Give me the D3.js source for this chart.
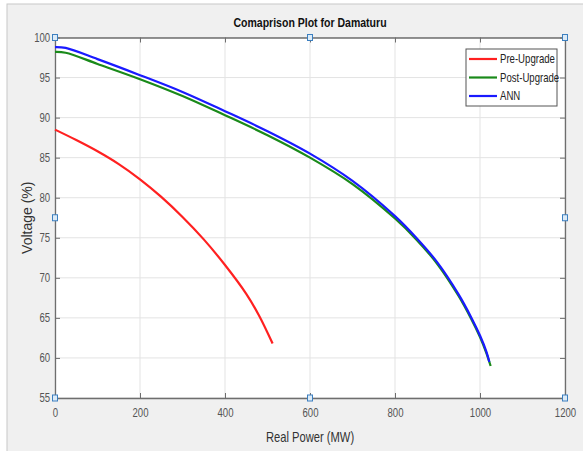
<!DOCTYPE html>
<html>
<head>
<meta charset="utf-8">
<script src="https://cdn.jsdelivr.net/npm/d3@7"></script>
<style>
  body { margin: 0; background: #fff; }
  text { font-family: "Liberation Sans", Arial, sans-serif; }
</style>
</head>
<body>
<svg id="chart" width="583" height="451"></svg>
<script>
// ***** Data *****
var seriesNames = ["Pre-Upgrade", "Post-Upgrade", "ANN"];
var seriesColors = ["#ff2020", "#1a8a1a", "#1a1aff"];

var prePower = [0, 50, 100, 150, 200, 250, 300, 350, 400, 450, 480, 512];
var preVolt = [88.5, 87.2, 85.8, 84.2, 82.3, 80.1, 77.6, 74.8, 71.6, 68.0, 65.3, 61.8];

var postPower = [0, 25, 100, 200, 300, 400, 500, 600, 700, 800, 850, 900, 950, 980, 1000, 1015, 1025];
var postVolt = [98.2, 98.1, 96.7, 94.8, 92.7, 90.3, 87.8, 85.0, 81.7, 77.4, 74.8, 71.7, 67.7, 64.8, 62.6, 60.6, 59.0];

var annPower = [0, 25, 100, 200, 300, 400, 500, 600, 700, 800, 850, 900, 950, 980, 1000, 1015, 1022];
var annVolt = [98.8, 98.7, 97.3, 95.3, 93.2, 90.8, 88.3, 85.5, 82.1, 77.7, 75.0, 71.9, 67.9, 65.0, 62.8, 60.8, 59.5];

var xTicks = [0, 200, 400, 600, 800, 1000, 1200];
var yTicks = [55, 60, 65, 70, 75, 80, 85, 90, 95, 100];

// ***** Layout *****
var margin = {top: 37.5, right: 18, bottom: 53, left: 55};
var width = 583 - margin.left - margin.right,
    height = 451 - margin.top - margin.bottom;
var narrow = "scale(0.8,1)";

var svg = d3.select("#chart");

// figure background
svg.append("rect").attr("x", 7).attr("y", 4).attr("width", 583).attr("height", 460)
  .attr("fill", "#f0f0f0").attr("stroke", "#c8c8c8");

var x = d3.scaleLinear().domain([0, 1200]).range([0, width]);
var y = d3.scaleLinear().domain([55, 100]).range([height, 0]);

var g = svg.append("g").attr("transform", "translate(" + margin.left + "," + margin.top + ")");

g.append("rect").attr("width", width).attr("height", height).attr("fill", "#fff");

// grid
g.append("g").selectAll("line").data(xTicks).join("line")
  .attr("x1", function (d) { return x(d); }).attr("x2", function (d) { return x(d); })
  .attr("y1", 0).attr("y2", height).attr("stroke", "#e3e3e3");
g.append("g").selectAll("line").data(yTicks).join("line")
  .attr("y1", function (d) { return y(d); }).attr("y2", function (d) { return y(d); })
  .attr("x1", 0).attr("x2", width).attr("stroke", "#e3e3e3");

// axes
var axisColor = "#6e6e6e";
function styleAxis(sel) {
  sel.select(".domain").attr("stroke", axisColor).attr("stroke-width", 1.3);
  sel.selectAll(".tick line").attr("stroke", axisColor);
  sel.selectAll(".tick text").attr("fill", "#555").style("font-size", "12px")
    .style("font-family", "'Liberation Sans', Arial, sans-serif");
}
var xb = g.append("g").attr("transform", "translate(0," + height + ")")
  .call(d3.axisBottom(x).tickValues(xTicks).tickFormat(d3.format("d"))
    .tickSizeInner(-5).tickSizeOuter(0).tickPadding(10))
  .call(styleAxis);
xb.selectAll(".tick text").attr("transform", narrow);
var yl = g.append("g")
  .call(d3.axisLeft(y).tickValues(yTicks).tickSizeInner(-5).tickSizeOuter(0).tickPadding(6))
  .call(styleAxis);
yl.selectAll(".tick text").attr("transform", narrow);
g.append("g")
  .call(d3.axisTop(x).tickValues(xTicks).tickSizeInner(-5).tickSizeOuter(0).tickFormat(""))
  .call(styleAxis);
g.append("g").attr("transform", "translate(" + width + ",0)")
  .call(d3.axisRight(y).tickValues(yTicks).tickSizeInner(-5).tickSizeOuter(0).tickFormat(""))
  .call(styleAxis);

// lines
var line = d3.line()
  .x(function (d) { return x(d[0]); })
  .y(function (d) { return y(d[1]); })
  .curve(d3.curveCatmullRom.alpha(0.5));

var series = [
  d3.zip(prePower, preVolt),
  d3.zip(postPower, postVolt),
  d3.zip(annPower, annVolt)
];
g.append("g").selectAll("path").data(series).join("path")
  .attr("d", line)
  .attr("fill", "none")
  .attr("stroke", function (d, i) { return seriesColors[i]; })
  .attr("stroke-width", 2.2);

// legend
var legend = g.append("g").attr("transform", "translate(" + (466 - margin.left) + "," + (49 - margin.top) + ")");
legend.append("rect").attr("width", 91).attr("height", 57)
  .attr("fill", "#fff").attr("stroke", "#555");
var rows = legend.selectAll("g").data(seriesNames).join("g")
  .attr("transform", function (d, i) { return "translate(0," + (10 + i * 18.5) + ")"; });
rows.append("line").attr("x1", 3).attr("x2", 31)
  .attr("stroke", function (d, i) { return seriesColors[i]; }).attr("stroke-width", 2.2);
rows.append("text").attr("transform", "translate(34,0) " + narrow).attr("dy", "0.35em")
  .style("font-size", "12px").attr("fill", "#222").text(function (d) { return d; });

// selection handles (edit mode)
var handleX = [0, 600, 1200], handleY = [55, 77.5, 100];
var handles = [];
handleX.forEach(function (hx) {
  handleY.forEach(function (hy) {
    if (!(hx === 600 && hy === 77.5)) handles.push([hx, hy]);
  });
});
g.append("g").selectAll("rect").data(handles).join("rect")
  .attr("x", function (d) { return x(d[0]) - 2.5; })
  .attr("y", function (d) { return y(d[1]) - 3; })
  .attr("width", 5).attr("height", 6)
  .attr("fill", "#dcebf7").attr("stroke", "#3c7fc0").attr("stroke-width", 1);

// titles
svg.append("text").attr("transform", "translate(" + (margin.left + width / 2) + ",27) scale(0.78,1)")
  .attr("text-anchor", "middle").style("font-size", "13.5px").style("font-weight", "bold")
  .attr("fill", "#111").text("Comaprison Plot for Damaturu");
svg.append("text").attr("transform", "translate(" + (margin.left + width / 2) + ",442) " + narrow)
  .attr("text-anchor", "middle").style("font-size", "14px").attr("fill", "#333")
  .text("Real Power (MW)");
svg.append("text").attr("transform", "translate(32," + (margin.top + height / 2) + ") rotate(-90)")
  .attr("text-anchor", "middle").style("font-size", "14px").attr("fill", "#333")
  .text("Voltage (%)");
</script>
</body>
</html>
